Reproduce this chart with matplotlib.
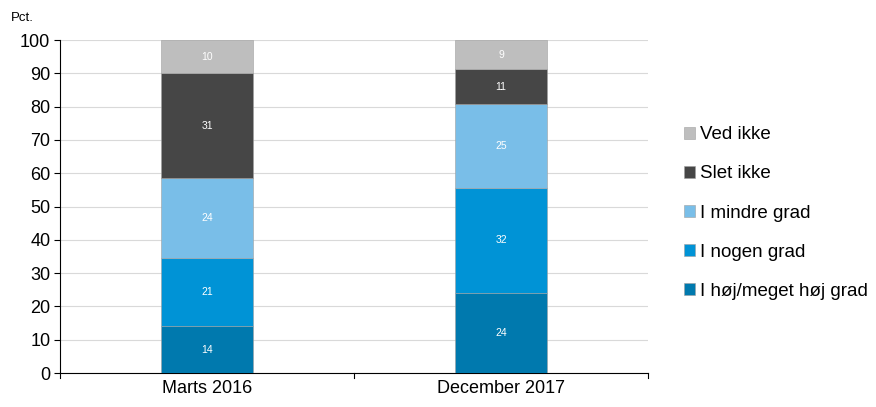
import numpy as np
import matplotlib
matplotlib.use("Agg")
import matplotlib.pyplot as plt

plt.rcParams["font.family"] = ["Liberation Sans", "DejaVu Sans"]

categories = ["Marts 2016", "December 2017"]
series_names = ["I høj/meget høj grad", "I nogen grad", "I mindre grad", "Slet ikke", "Ved ikke"]
# segment heights (pct.)
values = [
    [14.0, 24.0],
    [20.5, 31.7],
    [24.0, 25.0],
    [31.5, 10.5],
    [10.0, 8.8],
]
# printed labels
labels = [
    [14, 24],
    [21, 32],
    [24, 25],
    [31, 11],
    [10, 9],
]
colors = ["#0079AE", "#0093D6", "#79BEE8", "#464646", "#BEBEBE"]

fig = plt.figure(figsize=(8.76, 4.07), dpi=100)
ax = fig.add_axes([0.0685, 0.0835, 0.6712, 0.8182])

x = np.arange(len(categories))
bottom = np.zeros(len(categories))
handles = []
for name, vals, labs, col in zip(series_names, values, labels, colors):
    vals = np.array(vals)
    b = ax.bar(x, vals, width=0.313, bottom=bottom, color=col,
               edgecolor="#A0A0A0", linewidth=0.4, label=name, zorder=3)
    handles.append(b)
    for xi, v, bt, lab in zip(x, vals, bottom, labs):
        ax.text(xi, bt + v / 2, str(lab), ha="center", va="center",
                color="white", fontsize=7.5, zorder=4)
    bottom += vals

ax.set_xlim(-0.5, 1.5)
ax.set_ylim(0, 100)
ax.set_yticks(range(0, 101, 10))
ax.tick_params(axis="y", labelsize=13, length=4, width=0.8, direction="out", pad=3)
ax.set_xticks(x)
ax.set_xticklabels(categories, fontsize=13)
ax.tick_params(axis="x", length=0, pad=5)
for xt in [-0.5, 0.5, 1.5]:
    ax.plot([xt, xt], [0, -1.6], color="black", lw=0.8, clip_on=False)

ax.grid(axis="y", color="#D9D9D9", lw=0.8, zorder=0)
for s in ["top", "right"]:
    ax.spines[s].set_visible(False)
ax.spines["left"].set_linewidth(0.8)
ax.spines["bottom"].set_linewidth(0.8)

fig.text(0.012, 0.955, "Pct.", fontsize=9.5, ha="left", va="center")

fig.legend(handles[::-1], series_names[::-1], loc="upper left",
           bbox_to_anchor=(0.772, 0.708), frameon=False, fontsize=13.5,
           handlelength=0.6, handleheight=0.6, handletextpad=0.25,
           labelspacing=1.18, borderaxespad=0)

fig.savefig("out.png", dpi=100)
